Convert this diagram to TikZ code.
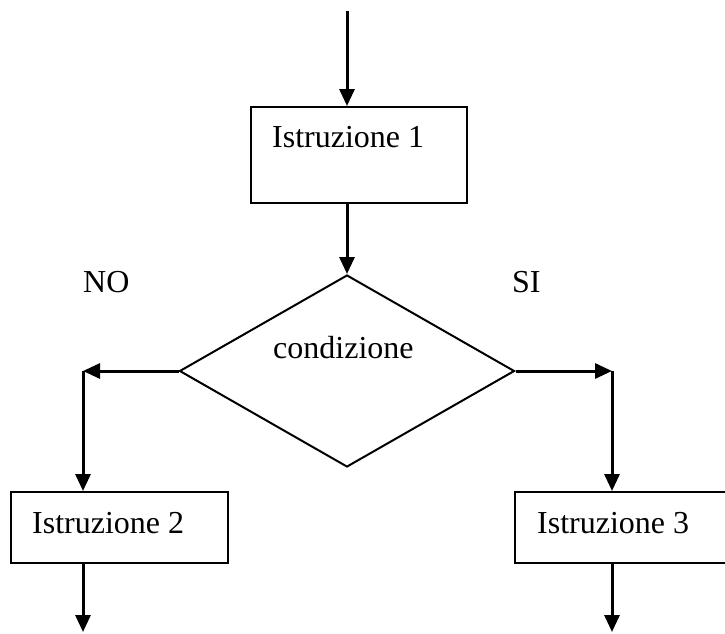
\documentclass[tikz,border=0pt]{standalone}
\usepackage{fontspec}
\setmainfont{Liberation Serif}
\usetikzlibrary{arrows.meta,shapes.geometric}
\begin{document}
\begin{tikzpicture}[x=1pt,y=-1pt,
  box/.style={draw,line width=2pt,rectangle,inner sep=0pt},
  cond/.style={draw,line width=2pt,diamond,inner sep=0pt,
    minimum width=335pt,minimum height=192pt},
  flow/.style={line width=3pt,-{Triangle[length=17pt,width=15pt]}},
  lbl/.style={inner sep=0pt,anchor=base west,font=\fontsize{32}{38}\selectfont}]
\clip (0,0) rectangle (725,633);

% blocks
\node[box,minimum width=216pt,minimum height=96pt] (s1) at (359,155) {};
\node[cond] (c) at (347,371) {};
\node[box,minimum width=217pt,minimum height=71pt] (s2) at (119.5,527.5) {};
\node[box,minimum width=245pt,minimum height=71pt] (s3) at (637.5,527.5) {};

% texts
\node[lbl] (t1) at (272,147) {Istruzione 1};
\node[lbl] (tc) at (273,358) {condizione};
\node[lbl] (t2) at (32,533) {Istruzione 2};
\node[lbl] (t3) at (537,533) {Istruzione 3};
\node[lbl] (no) at (83,292) {NO};
\node[lbl] (si) at (512,292) {SI};

% connector points
\coordinate (start) at (347,11);
\coordinate (nl) at (83,371);
\coordinate (nr) at (612,371);
\coordinate (e2) at (83,632);
\coordinate (e3) at (612,632);

% connectors
\draw[flow] (start) -- (start |- s1.north);
\draw[flow] (s1.south -| start) -- (c.north);
\draw[flow] (c.west) -- (nl);
\draw[flow] (nl) -- (nl |- s2.north);
\draw[flow] (c.east) -- (nr);
\draw[flow] (nr) -- (nr |- s3.north);
\draw[flow] (s2.south -| nl) -- (e2);
\draw[flow] (s3.south -| nr) -- (e3);
\end{tikzpicture}
\end{document}
